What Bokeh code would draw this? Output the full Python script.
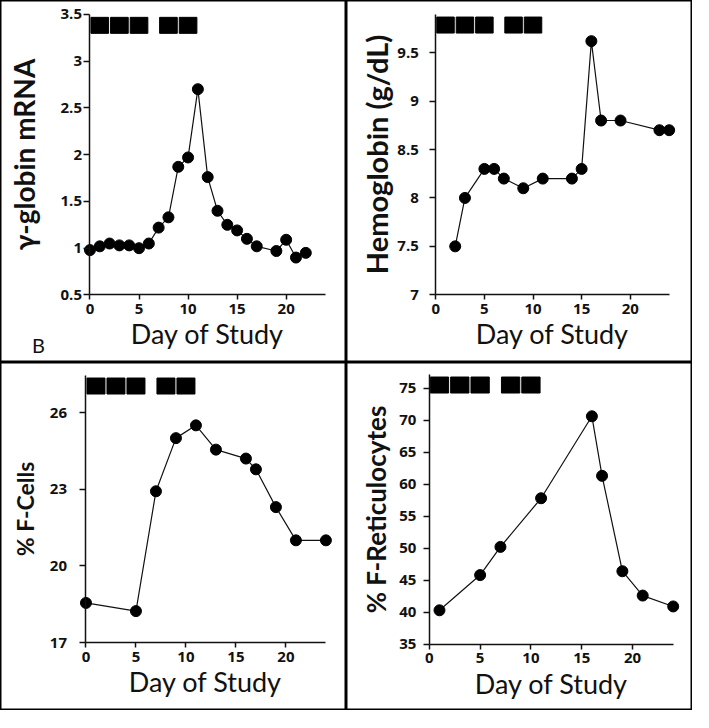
from bokeh.plotting import figure
from bokeh.models import Range1d, LinearAxis, FixedTicker, Label
from bokeh.layouts import column, row
from bokeh.embed import file_html
from bokeh.resources import INLINE

# ---------------- data ----------------
days_mrna = [0, 1, 2, 3, 4, 5, 6, 7, 8, 9, 10, 11, 12, 13, 14, 15, 16, 17, 19, 20, 21, 22]
mrna = [0.98, 1.02, 1.05, 1.03, 1.03, 1.0, 1.05, 1.22, 1.33, 1.87, 1.97, 2.7, 1.76, 1.4,
        1.25, 1.19, 1.1, 1.02, 0.97, 1.09, 0.9, 0.95]

days_hb = [2, 3, 5, 6, 7, 9, 11, 14, 15, 16, 17, 19, 23, 24]
hemoglobin = [7.5, 8.0, 8.3, 8.3, 8.2, 8.1, 8.2, 8.2, 8.3, 9.62, 8.8, 8.8, 8.7, 8.7]

days_fc = [0, 5, 7, 9, 11, 13, 16, 17, 19, 21, 24]
f_cells = [18.55, 18.23, 22.92, 25.0, 25.5, 24.55, 24.2, 23.78, 22.3, 21.0, 21.0]

days_fr = [1, 5, 7, 11, 16, 17, 19, 21, 24]
f_retic = [40.3, 45.8, 50.2, 57.8, 70.6, 61.3, 46.4, 42.6, 40.9]

# treatment courses (black squares), day spans
course_start = [0, 2, 4, 7, 9]
course_end = [2, 4, 6, 9, 11]

x_ticks = [0, 5, 10, 15, 20]
x_tick_labels = ["0", "5", "10", "15", "20"]

y1_ticks = [0.5, 1, 1.5, 2, 2.5, 3, 3.5]
y1_labels = ["0.5", "1", "1.5", "2", "2.5", "3", "3.5"]
y2_ticks = [7, 7.5, 8, 8.5, 9, 9.5]
y2_labels = ["7", "7.5", "8", "8.5", "9", "9.5"]
y3_ticks = [17, 20, 23, 26]
y3_labels = ["17", "20", "23", "26"]
y4_ticks = [35, 40, 45, 50, 55, 60, 65, 70, 75]
y4_labels = ["35", "40", "45", "50", "55", "60", "65", "70", "75"]

x_title = "Day of Study"
y_titles = ["\u03b3-globin mRNA", "Hemoglobin (g/dL)", "% F-Cells", "% F-Reticulocytes"]

FONT = "Lato"
TICK_FONT = "Open Sans"


def make_panel(w, h, xr, yr, ybounds, yticks, ylabels, ytitle, xs, ys,
               ytick_standoff, ylabel_standoff, ylabel_size):
    p = figure(width=w, height=h, x_range=Range1d(*xr), y_range=Range1d(*yr),
               output_backend="svg", toolbar_location=None, min_border=0,
               x_axis_type=None, y_axis_type=None, title=None)
    p.outline_line_color = "black"
    p.outline_line_width = 2
    p.background_fill_color = "white"
    p.border_fill_color = "white"

    xa = LinearAxis(fixed_location=ybounds[0], bounds=(0, 24),
                    ticker=FixedTicker(ticks=x_ticks),
                    major_label_overrides=dict(zip(x_ticks, x_tick_labels)))
    xa.axis_label = x_title
    ya = LinearAxis(fixed_location=0, bounds=ybounds,
                    ticker=FixedTicker(ticks=yticks),
                    major_label_overrides=dict(zip(yticks, ylabels)))
    ya.axis_label = ytitle
    for ax in (xa, ya):
        ax.axis_line_color = "#111111"
        ax.axis_line_width = 1.5
        ax.major_tick_line_color = "#111111"
        ax.major_tick_line_width = 1.5
        ax.major_tick_in = 0
        ax.major_tick_out = 6
        ax.minor_tick_line_color = None
        ax.major_label_text_font = TICK_FONT
        ax.major_label_text_font_style = "bold"
        ax.major_label_text_font_size = "15px"
        ax.major_label_text_color = "#111111"
        ax.axis_label_text_font = FONT
        ax.axis_label_text_color = "#111111"
    xa.major_tick_out = 5
    xa.major_label_standoff = 4
    xa.axis_label_standoff = 0
    xa.axis_label_text_font_size = "27px"
    xa.axis_label_text_font_style = "normal"
    ya.major_label_standoff = ytick_standoff
    ya.axis_label_standoff = ylabel_standoff
    ya.axis_label_text_font_size = ylabel_size
    ya.axis_label_text_font_style = "bold"
    p.add_layout(xa, "below")
    p.add_layout(ya, "left")

    # treatment squares at the top of the y axis
    ppu = h / (yr[1] - yr[0])
    top = ybounds[1] - 3 / ppu
    bottom = ybounds[1] - 19 / ppu
    p.quad(left=[s + 0.1 for s in course_start], right=[e - 0.1 for e in course_end],
           top=top, bottom=bottom, fill_color="black", line_color="black")

    p.line(xs, ys, line_color="#111111", line_width=1.2)
    p.scatter(xs, ys, size=11, fill_color="black", line_color="black")
    return p


W = 346
H_TOP = 362
H_BOT = 348

p1 = make_panel(W, H_TOP, (-9.12, 26.15), (-0.222, 3.648), (0.5, 3.5), y1_ticks, y1_labels,
                y_titles[0], days_mrna, mrna, 2, 16, "28px")
p1.add_layout(Label(x=-5.9, y=-0.03, text="B", text_font=FONT, text_font_size="20px",
                    text_color="#111111", text_baseline="alphabetic"))
p2 = make_panel(W, H_TOP, (-9.18, 26.4), (6.30, 10.04), (7, 9.9), y2_ticks, y2_labels,
                y_titles[1], days_hb, hemoglobin, 11, 0, "29px")
p3 = make_panel(W, H_BOT, (-8.55, 26.06), (14.34, 27.96), (17, 27.47), y3_ticks, y3_labels,
                y_titles[2], days_fc, f_cells, 13, 7, "23px")
p4 = make_panel(W, H_BOT, (-8.15, 25.9), (24.65, 79.0), (35, 77.2), y4_ticks, y4_labels,
                y_titles[3], days_fr, f_retic, 7, 4, "26px")

layout = column(row(p1, p2), row(p3, p4))
open("out.html", "w").write(file_html(layout, INLINE))
